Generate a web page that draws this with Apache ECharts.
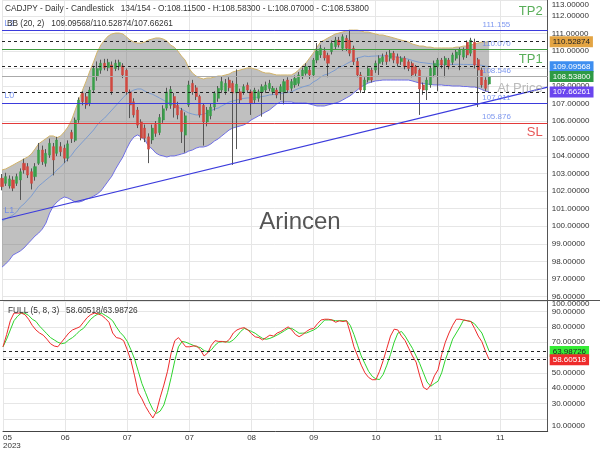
<!DOCTYPE html>
<html><head><meta charset="utf-8">
<script src="https://cdn.jsdelivr.net/npm/echarts@6/dist/echarts.min.js"></script>
<style>html,body{margin:0;padding:0;background:#fff}#c{width:600px;height:450px}</style>
</head><body><div id="c"></div>
<script>
// ---------------- DATA ----------------
const symbolName = 'CADJPY';
const barInfo = '134/154';
const slotCount = 150;
const xTickIndex = [0, 17, 34, 51, 68, 85, 102, 119, 136];
const xTickText = ['05', '06', '07', '07', '08', '09', '10', '11', '11'];
const yearText = '2023';

const opens = [102.74,102.45,102.30,102.64,102.45,102.64,103.59,103.40,103.11,102.83,
103.59,104.35,103.59,104.06,104.54,104.16,104.54,104.45,103.88,105.35,
104.90,106.06,107.58,107.39,107.00,107.77,108.53,108.90,109.30,109.05,
109.20,109.00,109.10,109.15,108.90,107.66,107.10,106.63,105.95,105.60,
105.10,104.92,105.80,105.35,106.06,106.74,106.90,107.40,106.90,106.60,
105.20,106.92,108.15,107.90,107.40,106.90,105.95,106.30,106.80,107.30,
107.77,107.70,108.34,108.15,107.60,107.67,107.67,108.05,107.67,107.20,
107.30,107.67,107.77,107.86,107.67,107.77,107.67,107.67,108.34,107.87,
108.06,108.15,108.53,108.72,108.91,108.63,109.48,109.77,110.00,109.75,
109.96,110.25,110.62,110.15,110.72,110.62,110.15,109.40,108.63,107.77,
108.34,108.91,108.91,109.29,109.39,109.77,109.58,109.87,109.67,109.39,
109.58,109.38,109.29,109.10,
108.91,108.06,107.77,108.06,108.63,109.10,109.48,109.20,109.48,109.35,
109.58,109.77,109.65,110.50,109.87,110.50,109.50,108.91,108.34,108.115];
const closes = [102.26,102.83,102.70,102.17,102.83,103.11,103.21,102.92,102.45,103.40,
104.35,103.68,104.16,104.73,103.78,104.92,104.25,103.88,104.70,105.00,
106.06,107.20,107.10,106.92,107.77,109.00,109.00,109.30,109.05,109.35,
107.70,109.30,109.35,108.63,107.66,106.92,106.35,105.77,105.03,105.03,
104.40,105.60,105.30,106.20,106.70,107.66,107.80,106.75,106.35,105.40,
106.30,108.06,107.66,107.40,106.35,105.95,106.63,106.80,107.58,107.87,
108.25,108.15,107.90,107.60,108.10,107.20,107.96,107.77,107.00,107.77,
107.67,107.96,108.06,108.15,107.87,107.49,107.96,108.25,107.77,108.25,
108.44,108.63,108.91,109.10,108.63,109.48,110.00,110.15,109.60,109.30,
110.43,110.62,110.34,110.81,110.15,109.87,109.39,108.63,107.77,108.34,
109.00,108.34,109.29,109.58,109.67,109.39,109.87,109.48,109.29,109.58,
109.10,109.00,108.63,108.72,
107.83,107.77,108.34,109.00,109.29,109.48,109.20,109.58,109.10,109.77,
109.94,110.05,110.05,109.77,110.62,109.20,108.91,108.06,107.87,108.538];
const lows = [102.05,102.30,102.15,102.00,102.30,101.50,103.00,102.75,102.10,102.60,
103.50,103.50,103.40,103.90,102.90,104.00,104.00,103.60,103.70,104.75,
104.80,105.90,106.90,106.70,106.85,107.60,108.30,108.70,108.90,108.85,
107.50,108.85,108.90,108.45,107.50,106.17,106.20,105.60,104.90,104.80,
103.60,104.70,105.10,105.20,105.90,106.60,106.70,106.20,106.10,104.75,
104.20,106.80,107.50,107.20,106.20,104.60,105.70,106.10,106.60,107.10,
107.60,107.50,107.70,103.50,104.40,107.00,107.50,107.60,106.35,107.00,
107.10,106.25,107.60,107.70,107.50,107.30,107.20,106.95,107.60,107.70,
107.90,108.00,108.40,108.60,108.40,108.50,109.30,109.60,109.45,108.50,
109.80,110.10,110.20,110.00,110.00,109.70,109.20,108.50,107.60,107.65,
108.20,108.20,108.75,108.63,109.20,109.20,109.40,109.30,109.10,109.20,
108.95,108.85,108.50,108.55,
106.35,107.50,107.20,107.90,108.50,107.70,109.00,108.50,108.95,109.20,
109.45,108.90,109.50,109.60,109.70,109.00,106.80,107.90,107.70,108.07];
const highs = [102.98,103.05,102.90,102.85,103.00,103.30,103.85,103.60,103.30,103.60,
104.75,104.60,104.40,105.00,104.75,105.10,104.80,104.65,104.90,105.50,
106.20,107.35,107.70,107.60,107.95,109.15,109.40,109.50,109.55,109.55,
109.40,109.50,109.50,109.30,109.00,107.80,107.30,106.80,106.10,105.80,
105.30,105.80,106.00,106.40,106.90,107.90,108.00,107.60,107.10,106.75,
106.50,108.30,108.35,108.05,107.50,107.00,106.80,107.00,107.70,108.00,
108.53,108.40,108.50,108.30,108.95,107.85,108.10,108.20,107.80,107.90,
107.80,108.10,108.25,108.35,108.00,107.90,108.10,108.40,108.50,108.40,
108.60,108.80,109.05,109.30,109.10,109.60,110.45,110.35,110.20,109.90,
110.60,110.80,110.80,110.95,110.90,111.20,110.30,109.60,108.80,108.50,
109.15,109.05,109.45,109.75,109.85,109.95,110.05,110.00,109.85,109.70,
109.70,109.50,109.40,109.20,
109.00,108.20,108.50,109.15,109.45,109.60,109.60,109.70,109.60,109.90,
110.10,110.20,110.20,110.60,110.75,110.70,109.60,109.05,108.50,108.583];

const bbUpper = [103.21,103.27,103.38,103.49,103.61,103.72,103.84,103.95,104.12,104.40,
104.70,104.85,105.00,105.15,105.15,105.05,105.15,105.38,105.66,106.06,
106.63,107.20,107.77,108.29,108.86,109.37,109.94,110.34,110.62,110.85,
110.97,111.02,111.02,110.97,110.80,110.62,110.51,110.45,110.45,110.51,
110.62,110.68,110.74,110.74,110.68,110.57,110.34,110.22,110.00,109.71,
109.48,109.03,108.74,108.57,108.46,108.40,108.46,108.46,108.51,108.57,
108.57,108.63,108.68,108.80,108.86,108.91,108.97,109.03,109.03,108.97,
108.91,108.80,108.74,108.74,108.68,108.63,108.63,108.63,108.63,108.63,
108.74,108.91,109.14,109.31,109.60,109.88,110.22,110.51,110.62,110.74,
110.85,110.97,111.02,111.08,111.14,111.19,111.19,111.19,111.14,111.08,
111.08,111.02,110.97,110.91,110.91,110.85,110.80,110.74,110.68,110.62,
110.57,110.51,110.40,110.34,110.28,110.28,110.22,110.22,110.17,110.17,
110.17,110.17,110.17,110.17,110.22,110.22,110.28,110.28,110.34,110.40,
110.45,110.51,110.51,110.53];
const bbMiddle = [100.30,100.41,100.53,100.64,100.81,101.10,101.27,101.50,101.72,102.01,
102.29,102.46,102.64,102.81,102.98,103.21,103.38,103.61,103.84,104.06,
104.35,104.58,104.81,105.03,105.26,105.49,105.78,106.00,106.17,106.40,
106.63,106.86,107.09,107.32,107.54,107.66,107.77,107.83,107.83,107.71,
107.60,107.54,107.43,107.32,107.20,107.09,107.03,106.92,106.80,106.69,
106.57,106.46,106.40,106.35,106.35,106.40,106.46,106.57,106.69,106.74,
106.86,106.97,107.09,107.14,107.20,107.26,107.29,107.32,107.32,107.34,
107.37,107.40,107.43,107.49,107.51,107.54,107.57,107.60,107.63,107.66,
107.77,107.86,107.94,108.00,108.06,108.23,108.34,108.51,108.63,108.68,
108.80,108.91,109.08,109.14,109.26,109.37,109.48,109.60,109.65,109.71,
109.68,109.70,109.71,109.72,109.73,109.71,109.70,109.67,109.64,109.61,
109.57,109.53,109.46,109.40,109.35,109.33,109.30,109.28,109.24,109.24,
109.24,109.23,109.23,109.23,109.24,109.24,109.23,109.23,109.22,109.24,
109.21,109.18,109.13,109.10];
const bbLower = [97.67,97.85,98.07,98.36,98.47,98.59,98.76,98.99,99.21,99.44,
99.61,99.84,100.18,100.75,101.15,101.38,101.55,101.67,101.61,101.50,
101.38,101.38,101.44,101.55,101.61,101.72,101.84,102.01,102.29,102.58,
102.86,103.26,103.61,103.95,104.41,104.81,105.09,105.21,105.09,104.92,
104.58,104.41,104.18,104.06,104.01,103.95,104.01,104.01,104.06,104.12,
104.18,104.29,104.35,104.46,104.52,104.52,104.58,104.69,104.86,104.98,
105.15,105.32,105.49,105.60,105.66,105.72,105.78,105.89,106.06,106.17,
106.29,106.40,106.52,106.63,106.80,106.97,107.09,107.09,107.09,107.09,
107.03,107.03,107.03,107.03,106.97,106.92,106.86,106.86,106.86,106.92,
106.97,107.03,107.09,107.20,107.32,107.43,107.60,107.77,107.94,108.06,
108.17,108.23,108.29,108.31,108.34,108.34,108.34,108.34,108.34,108.34,
108.34,108.34,108.29,108.23,108.17,108.14,108.11,108.09,108.06,108.06,
108.06,108.03,108.03,108.00,108.00,108.00,107.97,107.97,107.94,107.94,
107.89,107.80,107.71,107.66];

const stochK = [67,75,84,89,89,89,88,85,81,78,
76,74.6,72,69,67.5,67,70,73,76,78,
79,80,83,86,88,89,88.5,87.5,85.5,83,
76,73,72.5,71,65,58,48,37,33,28,
24,20.5,25,34,42,51,63,71,73,70,
67,67,67.5,67.5,65,61,63,68,71,70.5,
70.5,70,72,76,78,79,79.5,78,75.5,73.5,
73,71.5,73,74.6,74,76,77,78.5,80,78,
75,73.6,75,77,78.5,79,82,84.5,85,85,
84.5,83,84,83.5,84,76,67,61,55,50,
47,45.5,45.5,51,58,66,74,78.5,78,74,
71,66,61,57,48,40.5,39,42,48,52,
62,70,76,81,85,85,84.5,84,83.5,79,
74,70.3,64,58.61];
const stochD = [67,72,78,84,87,89,88.9,87.5,85,83.6,
80.5,78,75.5,73,71.5,70,69,69.5,71.5,73,
75,77.5,79,82,85,87,88.5,88.9,87.5,86,
84,80,76.5,74,70.5,65,59,51,43,37,
31,26,23.5,25,29,37,47,58,67,70.5,
70,69,68,67,66.5,64.5,63.8,65,68,70,
70.3,70.3,70,71.5,74,77,79,78,77,75.8,
74,72.5,71.9,72.5,73.5,74.7,76,77.5,79,79,
77.5,75.8,75.9,76,77,78,79.5,82,84.5,84.5,
84.5,84,84,84,84,81,75,68,61,56,
51,47.7,46,45.6,49,55,62,70,75.9,77,
74,70,66,61,56,50,44,41.2,43,44.5,
50,58.5,65,72,76,80,84.5,84,83.5,82,
79,76,70,63.99];

const lastOHLC = {o: 108.115, h: 108.583, l: 108.07, c: 108.538};
const bbNow = {mid: 109.09568, up: 110.52874, low: 107.66261};
const stochNow = {k: 58.60518, d: 63.98726};
const levelPrices = [111.155, 110.070, 108.546, 107.011, 105.876];
const levelTags = ['TP2', 'TP1', 'At Price', null, 'SL'];
const levelNames = ['L2', null, null, 'L0', null];
const trendLine = {name: 'L1', startIdx: 0, startPrice: 100.385, endIdx: 149, endPrice: 107.94};

// ---------------- STYLE ----------------
const FONT = 'Liberation Sans, Arial, sans-serif';
const mainMin = 95.793, mainMax = 112.906;
const stMin = 12.0, stMax = 96.9;
const GRID_LEFT = 2, GRID_W = 545.7;
const gridColor = '#e6e6e6';
const bull = '#3a9f4a', bear = '#d0473f', wick = '#555';
const levelColors = ['#3b3bdc', '#3f9b3f', '#aaaaaa', '#3b3bdc', '#e23a3a'];
const tagStyle = {
  'TP2': {color: '#2f9a2f', dy: -19},
  'TP1': {color: '#2f9a2f', dy: 10},
  'At Price': {color: '#aaaaaa', dy: 12},
  'SL': {color: '#e02a2a', dy: 9}
};
const lineLabelColor = '#5f80ec';

const cats = Array.from({length: slotCount}, (_, i) => String(i));
const tickSet = new Set(xTickIndex);
const candleData = opens.map((o, i) => [o, closes[i], lows[i], highs[i]]);
const bodyData = opens.map((o, i) => [o, closes[i], Math.min(o, closes[i]), Math.max(o, closes[i])]);
const bandSpan = bbUpper.map((u, i) => +(u - bbLower[i]).toFixed(5));
const trendAt = (idx) => trendLine.startPrice + (trendLine.endPrice - trendLine.startPrice) * (idx - trendLine.startIdx) / (trendLine.endIdx - trendLine.startIdx);

function tagLine(value, bg, fg, hidden) {
  return {
    yAxis: value,
    lineStyle: hidden ? {color: 'rgba(0,0,0,0)', width: 0} : {color: '#222', type: [3, 3], width: 1},
    label: {
      show: true, position: 'end', distance: 2,
      formatter: () => value.toFixed(5),
      backgroundColor: bg, color: fg, padding: [2, 3, 1, 3],
      fontSize: 8, fontFamily: FONT
    }
  };
}

const chart = echarts.init(document.getElementById('c'), null, {renderer: 'canvas'});
const option = {
  animation: false,
  backgroundColor: '#fff',
  textStyle: {fontFamily: FONT},
  grid: [
    {left: GRID_LEFT, width: GRID_W, top: 0, height: 300},
    {left: GRID_LEFT, width: GRID_W, top: 301, height: 130.7}
  ],
  xAxis: [
    {type: 'category', gridIndex: 0, data: cats, boundaryGap: false,
     axisLine: {show: false}, axisTick: {show: false}, axisLabel: {show: false},
     splitLine: {show: true, interval: (i) => tickSet.has(i), lineStyle: {color: gridColor}}},
    {type: 'category', gridIndex: 1, data: cats, boundaryGap: false,
     axisLine: {show: true, lineStyle: {color: '#444'}}, axisTick: {show: false},
     axisLabel: {
       interval: (i) => tickSet.has(i), fontSize: 8, color: '#333', margin: 3, lineHeight: 8,
       alignMinLabel: 'left',
       formatter: (v, i) => {
         const k = xTickIndex.indexOf(i);
         if (k < 0) return '';
         return k === 0 ? xTickText[k] + '\n' + yearText : xTickText[k];
       }
     },
     splitLine: {show: true, interval: (i) => tickSet.has(i), lineStyle: {color: gridColor}}}
  ],
  yAxis: [
    {type: 'value', gridIndex: 0, position: 'right', min: mainMin, max: mainMax,
     splitNumber: 17, minInterval: 1, maxInterval: 1,
     axisLine: {show: true, lineStyle: {color: '#555'}}, axisTick: {show: false},
     splitLine: {show: true, lineStyle: {color: gridColor}},
     axisLabel: {
       fontSize: 8, color: '#333', margin: 4, showMinLabel: false, showMaxLabel: true,
       formatter: (v) => Math.abs(v - mainMax) < 1e-6 ? '{t|' + Math.round(v).toFixed(5) + '}' : v.toFixed(5),
       rich: {t: {padding: [9, 0, 0, 0], fontSize: 8, color: '#333'}}
     }},
    {type: 'value', gridIndex: 1, position: 'right', min: stMin, max: stMax,
     splitNumber: 8, minInterval: 10, maxInterval: 10,
     axisLine: {show: true, lineStyle: {color: '#555'}}, axisTick: {show: false},
     splitLine: {show: true, lineStyle: {color: gridColor}},
     axisLabel: {
       fontSize: 8, color: '#333', margin: 4, showMinLabel: true, showMaxLabel: true,
       formatter: (v) => {
         const txt = (Math.round(v / 10) * 10).toFixed(5);
         if (Math.abs(v - stMax) < 1e-6) return '{t|' + txt + '}';
         if (Math.abs(v - stMin) < 1e-6) return '{b|' + txt + '}';
         return txt;
       },
       rich: {t: {padding: [5, 0, 0, 0], fontSize: 8, color: '#333'},
              b: {padding: [0, 0, 10, 0], fontSize: 8, color: '#333'}}
     }}
  ],
  series: [
    {name: 'bbLower', type: 'line', xAxisIndex: 0, yAxisIndex: 0, data: bbLower, stack: 'bb',
     symbol: 'none', lineStyle: {color: '#6f6fe6', width: 1}, z: 1},
    {name: 'bbUpper', type: 'line', xAxisIndex: 0, yAxisIndex: 0, data: bandSpan, stack: 'bb',
     symbol: 'none', lineStyle: {color: '#d2b46a', width: 1},
     areaStyle: {color: 'rgba(105,105,105,0.6)'}, z: 1},
    {name: 'bbMiddle', type: 'line', xAxisIndex: 0, yAxisIndex: 0, data: bbMiddle,
     symbol: 'none', lineStyle: {color: '#7c9cd0', width: 1}, z: 2,
     markLine: {
       silent: true, symbol: 'none', animation: false,
       label: {show: false},
       data: levelPrices.map((p, i) => ({yAxis: p, lineStyle: {color: levelColors[i], type: 'solid', width: 1}, label: {show: false}}))
         .concat([
           [{coord: [trendLine.startIdx, trendLine.startPrice], lineStyle: {color: '#3b3bdc', width: 1.2, type: 'solid'}, label: {show: false}},
            {coord: [trendLine.endIdx, trendLine.endPrice]}],
           tagLine(bbNow.up, '#e3a443', '#222'),
           tagLine(bbNow.mid, '#3d8ef0', '#fff'),
           tagLine(bbNow.low, '#6a45ee', '#fff'),
           tagLine(lastOHLC.c, '#2e9a45', '#fff', true)
         ])
     }},
    {name: 'wicks', type: 'candlestick', xAxisIndex: 0, yAxisIndex: 0, data: candleData, barWidth: 1, clip: false,
     itemStyle: {color: wick, color0: wick, borderColor: wick, borderColor0: wick, borderWidth: 1}, z: 3},
    {name: 'bodies', type: 'candlestick', xAxisIndex: 0, yAxisIndex: 0, data: bodyData, barWidth: 2.6, clip: false,
     itemStyle: {color: bull, color0: bear, borderColor: bull, borderColor0: bear, borderWidth: 0.5}, z: 4},
    {name: 'levelValues', type: 'scatter', xAxisIndex: 0, yAxisIndex: 0, symbolSize: 0, silent: true, z: 5,
     data: levelPrices.map(p => [135, p]),
     label: {show: true, position: 'top', distance: 2, color: lineLabelColor, fontSize: 8,
             formatter: (p) => p.value[1].toFixed(3)}},
    {name: 'levelTags', type: 'scatter', xAxisIndex: 0, yAxisIndex: 0, symbolSize: 0, silent: true, z: 5,
     data: levelPrices.map((p, i) => levelTags[i] ? {value: [149, p], label: {
       formatter: levelTags[i], color: tagStyle[levelTags[i]].color, offset: [0, tagStyle[levelTags[i]].dy]}} : null).filter(Boolean),
     label: {show: true, position: 'left', distance: 5, fontSize: 13, align: 'right'}},
    {name: 'lineNames', type: 'scatter', xAxisIndex: 0, yAxisIndex: 0, symbolSize: 0, silent: true, z: 5,
     data: levelPrices.map((p, i) => levelNames[i] ? {value: [2, p], label: {formatter: levelNames[i]}} : null).filter(Boolean)
       .concat([{value: [2, trendAt(2)], label: {formatter: trendLine.name}}]),
     label: {show: true, position: 'top', distance: 3, color: lineLabelColor, fontSize: 9}},
    {name: 'K', type: 'line', xAxisIndex: 1, yAxisIndex: 1, data: stochK, symbol: 'none',
     lineStyle: {color: '#ee2b2b', width: 1}, z: 3,
     markLine: {silent: true, symbol: 'none', animation: false, data: [
       tagLine(stochNow.d, '#36ec36', '#222'),
       tagLine(stochNow.k, '#ee2b2b', '#fff')
     ]}},
    {name: 'D', type: 'line', xAxisIndex: 1, yAxisIndex: 1, data: stochD, symbol: 'none',
     lineStyle: {color: '#2ed42e', width: 1}, z: 2}
  ],
  graphic: [
    {type: 'line', shape: {x1: 0, y1: 300.5, x2: 600, y2: 300.5}, style: {stroke: '#555', lineWidth: 1}, z: 10},
    {type: 'text', left: 5, top: 5, z: 10, style: {fill: '#333', fontSize: 8.3, fontFamily: FONT,
      text: symbolName + ' - Daily - Candlestick   ' + barInfo + ' - O:' + lastOHLC.o.toFixed(5) + ' - H:' + lastOHLC.h.toFixed(5) + ' - L:' + lastOHLC.l.toFixed(5) + ' - C:' + lastOHLC.c.toFixed(5)}},
    {type: 'text', left: 7, top: 20, z: 10, style: {fill: '#333', fontSize: 8.3, fontFamily: FONT,
      text: 'BB (20, 2)   ' + bbNow.mid.toFixed(5) + '/' + bbNow.up.toFixed(5) + '/' + bbNow.low.toFixed(5)}},
    {type: 'text', left: 8, top: 307, z: 10, style: {fill: '#333', fontSize: 8.3, fontFamily: FONT,
      text: 'FULL (5, 8, 3)   ' + stochNow.k.toFixed(5) + '/' + stochNow.d.toFixed(5)}},
    {type: 'text', x: 300, y: 222, z: 10, style: {text: 'Arincen', fill: '#555', fontSize: 24, fontFamily: FONT,
      align: 'center', verticalAlign: 'middle'}}
  ]
};
chart.setOption(option);
</script>
</body></html>
